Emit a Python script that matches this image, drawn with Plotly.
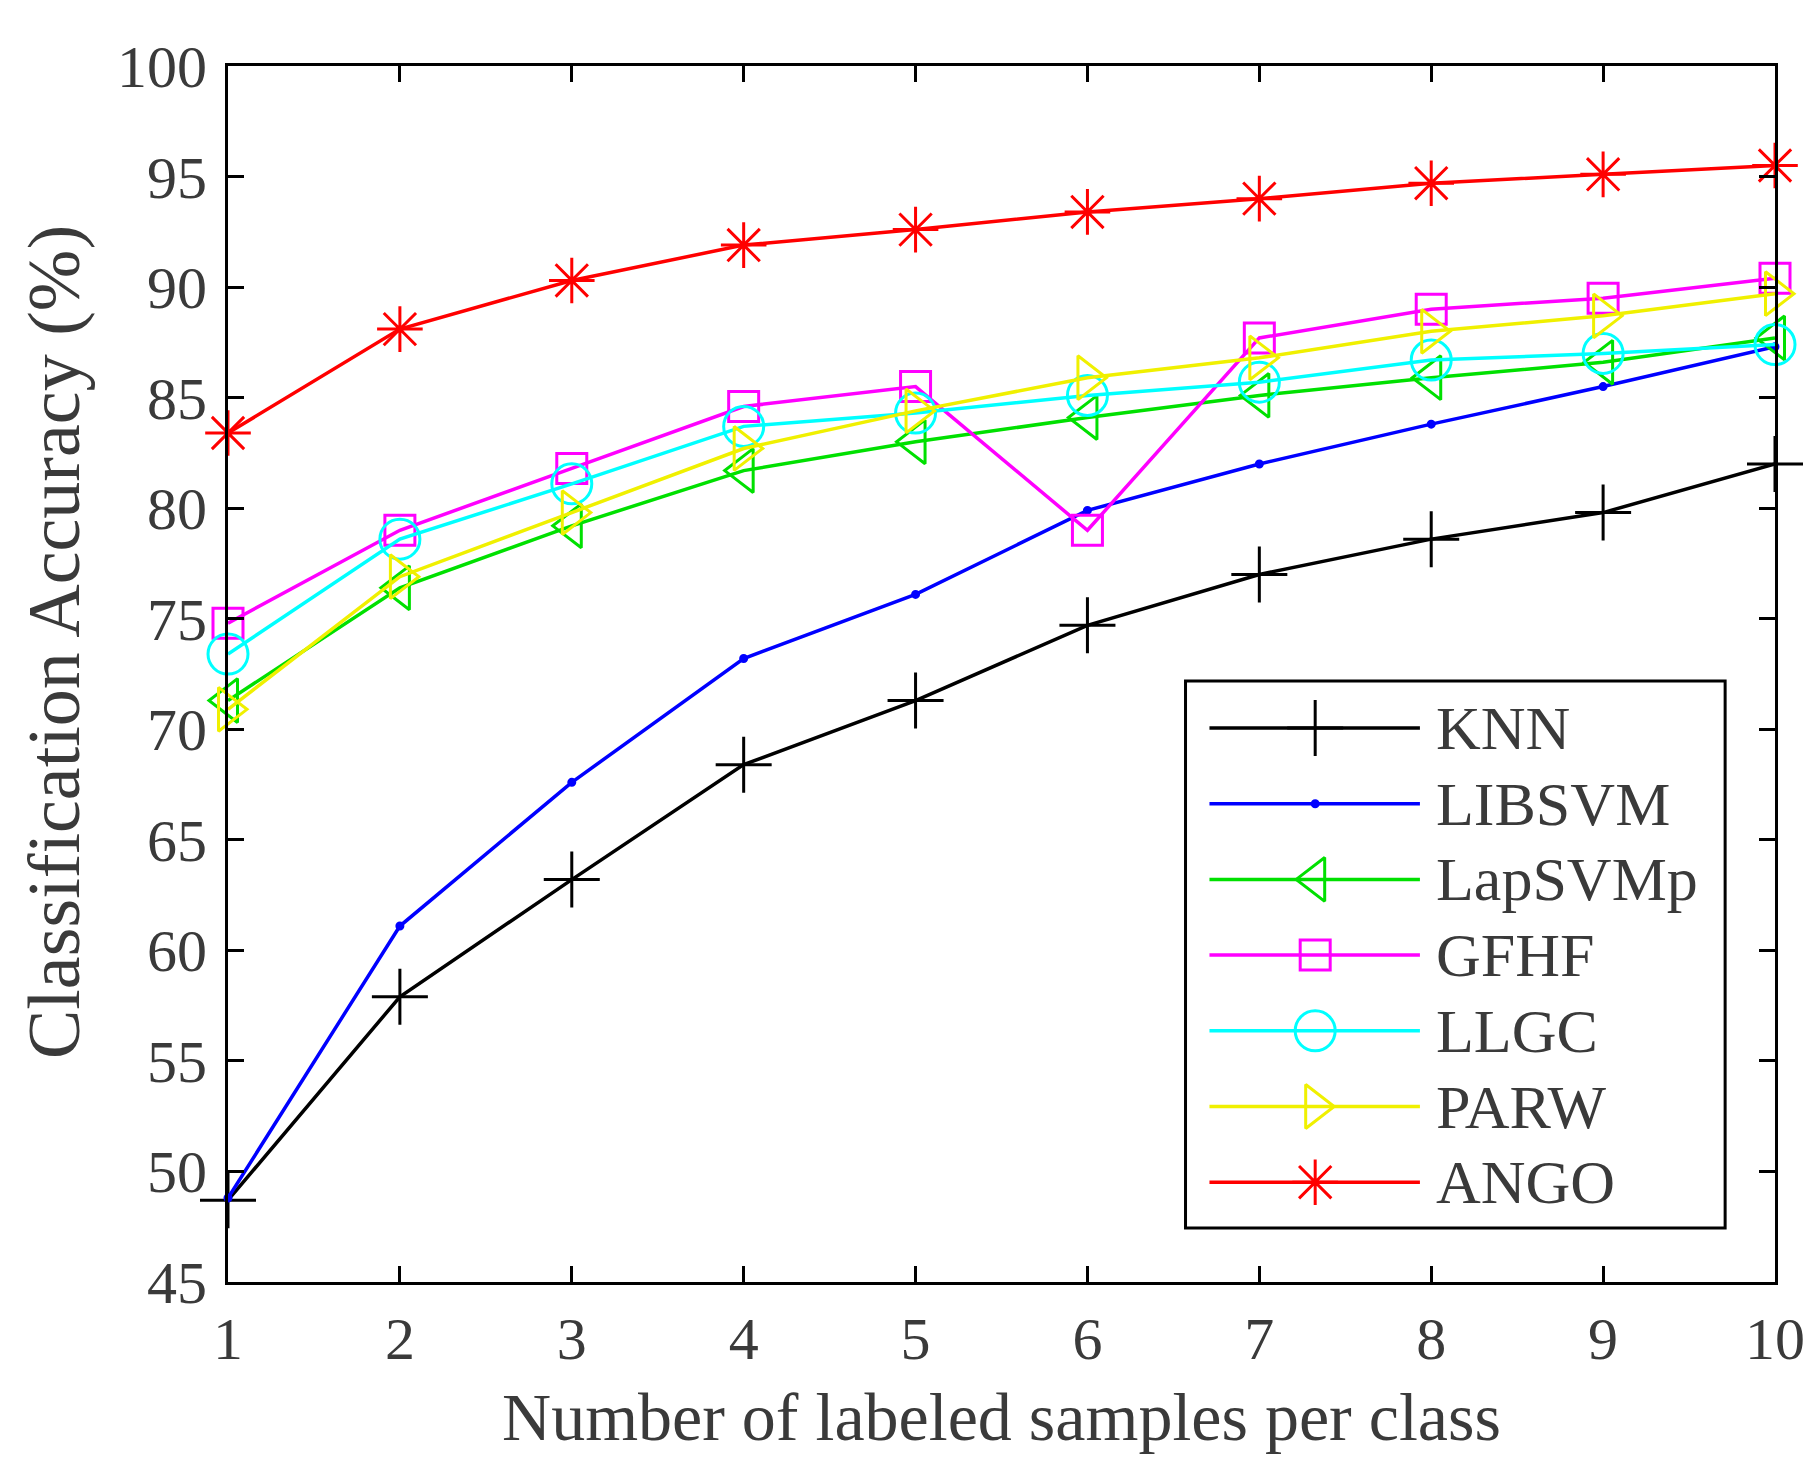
import plotly.graph_objects as go

# Number of labeled samples per class
samples = [1, 2, 3, 4, 5, 6, 7, 8, 9, 10]

# Classification accuracy (%) of each method
knn     = [48.7, 57.9, 63.2, 68.4, 71.3, 74.7, 77.0, 78.6, 79.8, 82.0]
libsvm  = [48.8, 61.1, 67.6, 73.2, 76.1, 79.9, 82.0, 83.8, 85.5, 87.3]
lapsvmp = [71.3, 76.4, 79.2, 81.7, 83.0, 84.1, 85.1, 85.9, 86.6, 87.7]
gfhf    = [74.8, 79.0, 81.8, 84.6, 85.5, 79.0, 87.7, 89.0, 89.5, 90.4]
llgc    = [73.4, 78.6, 81.1, 83.7, 84.3, 85.1, 85.7, 86.7, 87.0, 87.4]
parw    = [70.9, 76.9, 79.8, 82.7, 84.4, 85.9, 86.8, 88.0, 88.7, 89.7]
ango    = [83.4, 88.1, 90.3, 91.9, 92.6, 93.4, 94.0, 94.7, 95.1, 95.5]

methods = ["KNN", "LIBSVM", "LapSVMp", "GFHF", "LLGC", "PARW", "ANGO"]
x_ticks = [1, 2, 3, 4, 5, 6, 7, 8, 9, 10]
y_ticks = [45, 50, 55, 60, 65, 70, 75, 80, 85, 90, 95, 100]

values = [knn, libsvm, lapsvmp, gfhf, llgc, parw, ango]
colors = ["#000000", "#0000ff", "#00e000", "#ff00ff", "#00ffff", "#f0f000", "#ff0000"]
symbols = ["cross-thin-open", "circle", "triangle-left-open", "square-open",
           "circle-open", "triangle-right-open", "asterisk-open"]
sizes = [40, 6, 38, 30, 40, 38, 38]

LINE_W = 3.5
text_color = "#3a3a3a"
serif = "Liberation Serif"

fig = go.Figure()
for name, vals, color, symbol, size in zip(methods, values, colors, symbols, sizes):
    fig.add_trace(go.Scatter(
        x=samples, y=vals, name=name, mode="lines+markers",
        line=dict(color=color, width=LINE_W),
        marker=dict(symbol=symbol, size=size, color=color,
                    line=dict(color=color, width=3)),
        cliponaxis=False, showlegend=False,
    ))

# --- Legend box (drawn on a pixel-scaled overlay of the plot area) ---
PLOT_W, PLOT_H = 1551, 1216
box_x0, box_x1, box_y0, box_y1 = 960, 1501, 54, 601
row_top, row_step = 554, 75.7
line_x0, line_x1, mark_x, text_x = 984, 1195, 1090, 1209

shapes = [dict(type="rect", xref="x2", yref="y2",
               x0=box_x0, x1=box_x1, y0=box_y0, y1=box_y1,
               line=dict(color="black", width=3), fillcolor="white", layer="below")]
annotations = []
for i, (name, color, symbol, size) in enumerate(zip(methods, colors, symbols, sizes)):
    ry = row_top - i * row_step
    shapes.append(dict(type="line", xref="x2", yref="y2",
                       x0=line_x0, x1=line_x1, y0=ry, y1=ry,
                       line=dict(color=color, width=LINE_W), layer="below"))
    annotations.append(dict(xref="x2", yref="y2", x=text_x, y=ry,
                            text=name, showarrow=False,
                            xanchor="left", yanchor="middle",
                            font=dict(family=serif, size=62, color=text_color)))
    fig.add_trace(go.Scatter(
        x=[mark_x], y=[ry], xaxis="x2", yaxis="y2", mode="markers",
        marker=dict(symbol=symbol, size=size, color=color,
                    line=dict(color=color, width=3)),
        showlegend=False, hoverinfo="skip", cliponaxis=False,
    ))

# Y-axis title, placed slightly above the plot-area centre
annotations.append(dict(
    xref="paper", yref="paper", x=-0.112, y=0.526,
    text="Classification Accuracy (%)", textangle=-90, showarrow=False,
    xanchor="center", yanchor="middle",
    font=dict(family=serif, size=74, color=text_color),
))

axis_common = dict(
    showline=True, linecolor="black", linewidth=3, mirror="ticks",
    ticks="inside", ticklen=16, tickwidth=3, tickcolor="black",
    showgrid=False, zeroline=False,
    tickfont=dict(family=serif, size=60, color=text_color),
)

fig.update_layout(
    width=1817, height=1462,
    margin=dict(l=228, r=38, t=66, b=180),
    paper_bgcolor="white", plot_bgcolor="white",
    showlegend=False,
    shapes=shapes,
    annotations=annotations,
    xaxis=dict(
        range=[1, 10], tickvals=x_ticks, ticklabelstandoff=2,
        title=dict(text="Number of labeled samples per class",
                   font=dict(family=serif, size=68, color=text_color),
                   standoff=22),
        **axis_common,
    ),
    yaxis=dict(
        range=[45, 100], tickvals=y_ticks, ticklabelstandoff=6,
        **axis_common,
    ),
    xaxis2=dict(overlaying="x", range=[0, PLOT_W], visible=False, fixedrange=True),
    yaxis2=dict(overlaying="y", range=[0, PLOT_H], visible=False, fixedrange=True),
)

fig.write_html("out.html")
